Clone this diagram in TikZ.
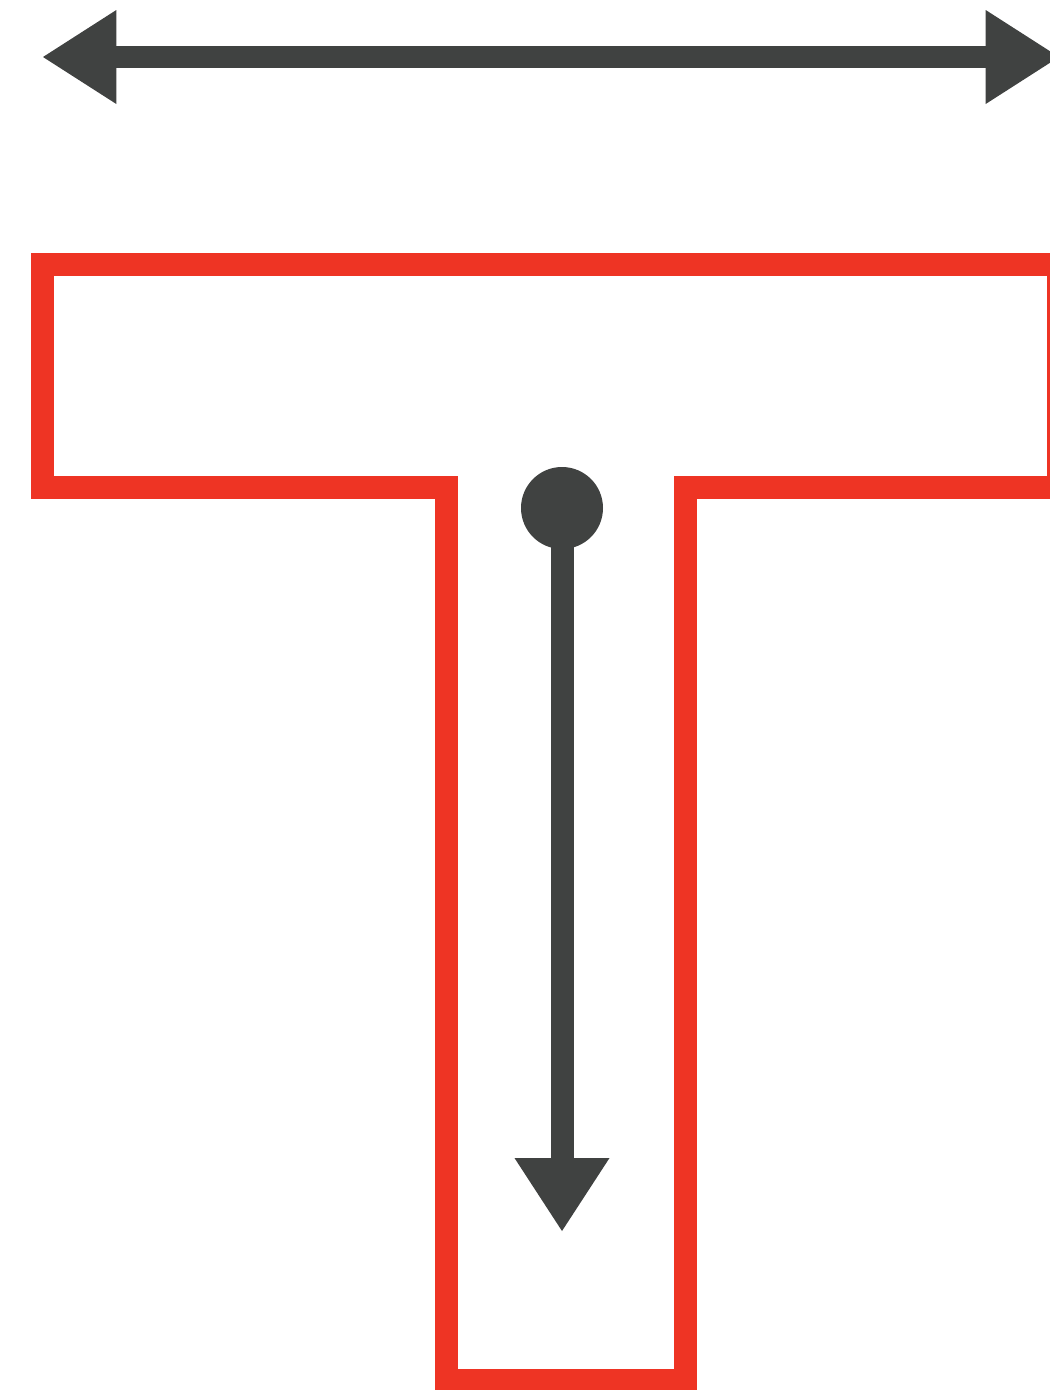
\documentclass[tikz,border=0pt]{standalone}
\usepackage{tikz}
\usetikzlibrary{arrows.meta,positioning}
\definecolor{tred}{RGB}{238,52,36}
\definecolor{tgray}{RGB}{64,66,65}

\begin{document}
\begin{tikzpicture}[
    x=0.75pt, y=-0.75pt,
    outline/.style={draw=tred, line width=17.25pt, miter limit=10, line join=miter},
    pivot/.style={circle, fill=tgray, inner sep=0pt, minimum size=61.5pt},
    arrow/.style={draw=tgray, line width=17pt, {Triangle[length=55pt, width=70.5pt, line width=0pt]}-{Triangle[length=55pt, width=70.5pt, line width=0pt]}},
    droparrow/.style={draw=tgray, line width=17.25pt, -{Triangle[length=54.75pt, width=71.25pt, line width=0pt]}}
]
\useasboundingbox (0,0) rectangle (1050,1390);
\clip (0,0) rectangle (1050,1390);

\coordinate (wl) at (43,57);
\coordinate (wr) at (1059,57);
\draw[arrow] (wl) -- (wr);

\draw[outline] (42.5,264) -- (1058,264) -- (1058,487.5) -- (685,487.5) -- (685,1380)
    -- (446,1380) -- (446,487.5) -- (42.5,487.5) -- cycle;

\node[pivot] (cg) at (562,508) {};
\coordinate (tip) at (562,1231);
\draw[droparrow] (cg.center) -- (tip);
\end{tikzpicture}
\end{document}
